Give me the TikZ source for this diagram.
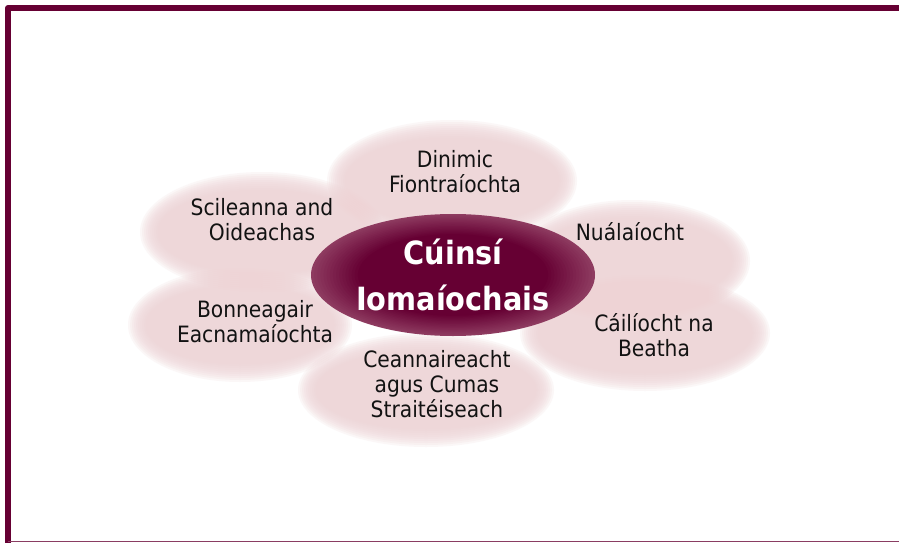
\documentclass[tikz,border=0pt]{standalone}
\usepackage{fontspec}
\setmainfont{DejaVu Sans Condensed}
\definecolor{maroon}{RGB}{102,0,51}
\definecolor{maroonedge}{RGB}{168,98,126}
\definecolor{petalpink}{RGB}{238,211,213}
\definecolor{framelow}{RGB}{138,61,98}
\tikzset{
  petal/.style={fill=petalpink, fill opacity=0.18},
  label/.style={align=center, text=black!93, font=\fontsize{22.5}{25}\selectfont},
  core/.style={align=center, text=white, font=\bfseries\fontsize{32}{46}\selectfont}
}
\begin{document}
\begin{tikzpicture}[x=1pt, y=-1pt]
    \useasboundingbox (0,0) rectangle (899,543);
    \fill[white] (0,0) rectangle (899,543);
    % frame
    \draw[maroon, line width=6pt, line join=round] (8,543) -- (8,8) -- (899,8);
    \draw[framelow, line width=1.5pt] (8,541.5) -- (899,541.5);

    % petals, soft edges from stacked ellipses
    \foreach \cx/\cy/\rx/\ry in {452/181/125/61, 632/261/118/61, 645/333/125/58,
                                 426/390/128/57, 240/325/112/57, 262/232/122/60}
    \foreach \k in {0,...,9}
    \fill[petal] (\cx,\cy) ellipse ({\rx-2*\k} and {\ry-2*\k});

    % centre, light rim to dark core
    \foreach \k [evaluate=\k as \pct using int(40+\k*4)] in {0,...,15}
    \fill[maroon!\pct!maroonedge] (453,275) ellipse ({142*(1-0.022*\k)} and {61*(1-0.022*\k)});

    % labels --- access them as lbl...
    \node[label] (lbldyn) at (455,172) {Dinimic\\Fiontraíochta};
    \node[label] (lblskill) at (262,220) {Scileanna and\\Oideachas};
    \node[label] (lblinnov) at (630,232) {Nuálaíocht};
    \node[label] (lblinfra) at (255,322) {Bonneagair\\Eacnamaíochta};
    \node[label] (lblqual) at (654,335) {Cáilíocht na\\Beatha};
    \node[label] (lbllead) at (437,384) {Ceannaireacht\\agus Cumas\\Straitéiseach};
    \node[core] (lblcore) at (453,275) {Cúinsí\\Iomaíochais};
\end{tikzpicture}
\end{document}
